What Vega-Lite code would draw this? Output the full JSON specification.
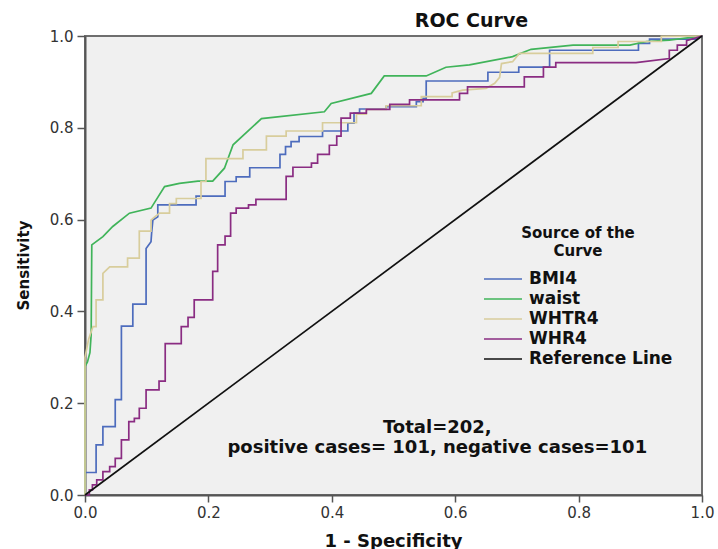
{
  "$schema": "https://vega.github.io/schema/vega-lite/v6.json",
  "width": 617,
  "height": 459,
  "autosize": {"type": "none"},
  "padding": {"left": 85, "top": 36, "right": 16, "bottom": 54},
  "background": "white",
  "title": {"text": "ROC Curve", "font": "DejaVu Sans", "fontSize": 19, "fontWeight": "bold", "color": "#111", "anchor": "middle", "dx": 78, "dy": 8, "offset": 6},
  "config": {
    "view": {"fill": "#f0f0f0", "stroke": "#6e6e6e", "strokeWidth": 2}
  },
  "datasets": {
    "roc": [
      {"s":"BMI4","x":0,"y":0},{"s":"BMI4","x":0,"y":0.049},{"s":"BMI4","x":0.018,"y":0.049},{"s":"BMI4","x":0.018,"y":0.109},{"s":"BMI4","x":0.029,"y":0.109},{"s":"BMI4","x":0.029,"y":0.149},{"s":"BMI4","x":0.049,"y":0.149},{"s":"BMI4","x":0.049,"y":0.208},{"s":"BMI4","x":0.059,"y":0.208},{"s":"BMI4","x":0.059,"y":0.368},{"s":"BMI4","x":0.0775,"y":0.368},{"s":"BMI4","x":0.0775,"y":0.416},{"s":"BMI4","x":0.099,"y":0.416},{"s":"BMI4","x":0.099,"y":0.537},{"s":"BMI4","x":0.107,"y":0.552},{"s":"BMI4","x":0.108,"y":0.571},{"s":"BMI4","x":0.110,"y":0.599},{"s":"BMI4","x":0.118,"y":0.606},{"s":"BMI4","x":0.118,"y":0.632},{"s":"BMI4","x":0.180,"y":0.632},{"s":"BMI4","x":0.180,"y":0.651},{"s":"BMI4","x":0.227,"y":0.651},{"s":"BMI4","x":0.227,"y":0.683},{"s":"BMI4","x":0.245,"y":0.683},{"s":"BMI4","x":0.245,"y":0.693},{"s":"BMI4","x":0.267,"y":0.693},{"s":"BMI4","x":0.267,"y":0.713},{"s":"BMI4","x":0.316,"y":0.713},{"s":"BMI4","x":0.316,"y":0.742},{"s":"BMI4","x":0.325,"y":0.742},{"s":"BMI4","x":0.325,"y":0.759},{"s":"BMI4","x":0.334,"y":0.759},{"s":"BMI4","x":0.334,"y":0.770},{"s":"BMI4","x":0.347,"y":0.770},{"s":"BMI4","x":0.347,"y":0.781},{"s":"BMI4","x":0.385,"y":0.781},{"s":"BMI4","x":0.385,"y":0.793},{"s":"BMI4","x":0.426,"y":0.793},{"s":"BMI4","x":0.426,"y":0.810},{"s":"BMI4","x":0.436,"y":0.810},{"s":"BMI4","x":0.436,"y":0.832},{"s":"BMI4","x":0.445,"y":0.832},{"s":"BMI4","x":0.445,"y":0.841},{"s":"BMI4","x":0.488,"y":0.841},{"s":"BMI4","x":0.488,"y":0.846},{"s":"BMI4","x":0.537,"y":0.846},{"s":"BMI4","x":0.537,"y":0.857},{"s":"BMI4","x":0.548,"y":0.857},{"s":"BMI4","x":0.548,"y":0.864},{"s":"BMI4","x":0.553,"y":0.864},{"s":"BMI4","x":0.553,"y":0.902},{"s":"BMI4","x":0.653,"y":0.902},{"s":"BMI4","x":0.653,"y":0.921},{"s":"BMI4","x":0.703,"y":0.921},{"s":"BMI4","x":0.703,"y":0.932},{"s":"BMI4","x":0.753,"y":0.932},{"s":"BMI4","x":0.753,"y":0.969},{"s":"BMI4","x":0.897,"y":0.969},{"s":"BMI4","x":0.897,"y":0.984},{"s":"BMI4","x":0.915,"y":0.984},{"s":"BMI4","x":0.915,"y":0.993},{"s":"BMI4","x":0.99,"y":0.993},{"s":"BMI4","x":1,"y":1},
      {"s":"waist","x":0,"y":0},{"s":"waist","x":0,"y":0.28},{"s":"waist","x":0.004,"y":0.29},{"s":"waist","x":0.008,"y":0.31},{"s":"waist","x":0.010,"y":0.35},{"s":"waist","x":0.011,"y":0.545},{"s":"waist","x":0.029,"y":0.563},{"s":"waist","x":0.045,"y":0.585},{"s":"waist","x":0.072,"y":0.614},{"s":"waist","x":0.107,"y":0.625},{"s":"waist","x":0.129,"y":0.672},{"s":"waist","x":0.153,"y":0.679},{"s":"waist","x":0.183,"y":0.684},{"s":"waist","x":0.207,"y":0.684},{"s":"waist","x":0.226,"y":0.712},{"s":"waist","x":0.240,"y":0.763},{"s":"waist","x":0.286,"y":0.820},{"s":"waist","x":0.388,"y":0.835},{"s":"waist","x":0.399,"y":0.853},{"s":"waist","x":0.464,"y":0.875},{"s":"waist","x":0.485,"y":0.913},{"s":"waist","x":0.553,"y":0.913},{"s":"waist","x":0.585,"y":0.932},{"s":"waist","x":0.623,"y":0.937},{"s":"waist","x":0.693,"y":0.955},{"s":"waist","x":0.723,"y":0.971},{"s":"waist","x":0.791,"y":0.980},{"s":"waist","x":0.883,"y":0.980},{"s":"waist","x":0.910,"y":0.988},{"s":"waist","x":0.947,"y":0.991},{"s":"waist","x":1,"y":1},
      {"s":"WHTR4","x":0,"y":0},{"s":"WHTR4","x":0,"y":0.30},{"s":"WHTR4","x":0.006,"y":0.34},{"s":"WHTR4","x":0.013,"y":0.367},{"s":"WHTR4","x":0.018,"y":0.367},{"s":"WHTR4","x":0.018,"y":0.425},{"s":"WHTR4","x":0.029,"y":0.425},{"s":"WHTR4","x":0.029,"y":0.483},{"s":"WHTR4","x":0.040,"y":0.497},{"s":"WHTR4","x":0.069,"y":0.497},{"s":"WHTR4","x":0.069,"y":0.516},{"s":"WHTR4","x":0.088,"y":0.516},{"s":"WHTR4","x":0.088,"y":0.575},{"s":"WHTR4","x":0.107,"y":0.575},{"s":"WHTR4","x":0.107,"y":0.599},{"s":"WHTR4","x":0.113,"y":0.606},{"s":"WHTR4","x":0.121,"y":0.614},{"s":"WHTR4","x":0.137,"y":0.614},{"s":"WHTR4","x":0.137,"y":0.635},{"s":"WHTR4","x":0.148,"y":0.635},{"s":"WHTR4","x":0.148,"y":0.646},{"s":"WHTR4","x":0.188,"y":0.646},{"s":"WHTR4","x":0.188,"y":0.683},{"s":"WHTR4","x":0.196,"y":0.683},{"s":"WHTR4","x":0.196,"y":0.733},{"s":"WHTR4","x":0.256,"y":0.733},{"s":"WHTR4","x":0.256,"y":0.752},{"s":"WHTR4","x":0.294,"y":0.752},{"s":"WHTR4","x":0.294,"y":0.782},{"s":"WHTR4","x":0.326,"y":0.782},{"s":"WHTR4","x":0.326,"y":0.793},{"s":"WHTR4","x":0.385,"y":0.793},{"s":"WHTR4","x":0.385,"y":0.811},{"s":"WHTR4","x":0.440,"y":0.811},{"s":"WHTR4","x":0.440,"y":0.830},{"s":"WHTR4","x":0.456,"y":0.830},{"s":"WHTR4","x":0.456,"y":0.840},{"s":"WHTR4","x":0.488,"y":0.840},{"s":"WHTR4","x":0.488,"y":0.848},{"s":"WHTR4","x":0.545,"y":0.848},{"s":"WHTR4","x":0.545,"y":0.868},{"s":"WHTR4","x":0.595,"y":0.868},{"s":"WHTR4","x":0.595,"y":0.876},{"s":"WHTR4","x":0.612,"y":0.882},{"s":"WHTR4","x":0.650,"y":0.886},{"s":"WHTR4","x":0.664,"y":0.897},{"s":"WHTR4","x":0.672,"y":0.910},{"s":"WHTR4","x":0.675,"y":0.940},{"s":"WHTR4","x":0.693,"y":0.944},{"s":"WHTR4","x":0.704,"y":0.962},{"s":"WHTR4","x":0.823,"y":0.962},{"s":"WHTR4","x":0.823,"y":0.975},{"s":"WHTR4","x":0.864,"y":0.975},{"s":"WHTR4","x":0.864,"y":0.988},{"s":"WHTR4","x":0.934,"y":0.988},{"s":"WHTR4","x":0.934,"y":0.999},{"s":"WHTR4","x":1,"y":1},
      {"s":"WHR4","x":0,"y":0},{"s":"WHR4","x":0.007,"y":0},{"s":"WHR4","x":0.007,"y":0.011},{"s":"WHR4","x":0.012,"y":0.011},{"s":"WHR4","x":0.012,"y":0.022},{"s":"WHR4","x":0.019,"y":0.022},{"s":"WHR4","x":0.019,"y":0.033},{"s":"WHR4","x":0.029,"y":0.033},{"s":"WHR4","x":0.029,"y":0.051},{"s":"WHR4","x":0.040,"y":0.051},{"s":"WHR4","x":0.040,"y":0.062},{"s":"WHR4","x":0.049,"y":0.062},{"s":"WHR4","x":0.049,"y":0.080},{"s":"WHR4","x":0.059,"y":0.080},{"s":"WHR4","x":0.059,"y":0.120},{"s":"WHR4","x":0.071,"y":0.120},{"s":"WHR4","x":0.071,"y":0.160},{"s":"WHR4","x":0.080,"y":0.160},{"s":"WHR4","x":0.080,"y":0.167},{"s":"WHR4","x":0.088,"y":0.167},{"s":"WHR4","x":0.088,"y":0.189},{"s":"WHR4","x":0.099,"y":0.189},{"s":"WHR4","x":0.099,"y":0.229},{"s":"WHR4","x":0.120,"y":0.229},{"s":"WHR4","x":0.120,"y":0.248},{"s":"WHR4","x":0.130,"y":0.248},{"s":"WHR4","x":0.130,"y":0.330},{"s":"WHR4","x":0.156,"y":0.330},{"s":"WHR4","x":0.156,"y":0.367},{"s":"WHR4","x":0.167,"y":0.367},{"s":"WHR4","x":0.167,"y":0.387},{"s":"WHR4","x":0.177,"y":0.387},{"s":"WHR4","x":0.177,"y":0.425},{"s":"WHR4","x":0.207,"y":0.425},{"s":"WHR4","x":0.207,"y":0.487},{"s":"WHR4","x":0.215,"y":0.487},{"s":"WHR4","x":0.215,"y":0.545},{"s":"WHR4","x":0.227,"y":0.545},{"s":"WHR4","x":0.227,"y":0.564},{"s":"WHR4","x":0.236,"y":0.564},{"s":"WHR4","x":0.236,"y":0.614},{"s":"WHR4","x":0.245,"y":0.614},{"s":"WHR4","x":0.245,"y":0.625},{"s":"WHR4","x":0.265,"y":0.625},{"s":"WHR4","x":0.265,"y":0.632},{"s":"WHR4","x":0.277,"y":0.632},{"s":"WHR4","x":0.277,"y":0.644},{"s":"WHR4","x":0.326,"y":0.644},{"s":"WHR4","x":0.326,"y":0.694},{"s":"WHR4","x":0.337,"y":0.694},{"s":"WHR4","x":0.337,"y":0.714},{"s":"WHR4","x":0.367,"y":0.714},{"s":"WHR4","x":0.367,"y":0.723},{"s":"WHR4","x":0.377,"y":0.723},{"s":"WHR4","x":0.377,"y":0.742},{"s":"WHR4","x":0.396,"y":0.742},{"s":"WHR4","x":0.396,"y":0.762},{"s":"WHR4","x":0.408,"y":0.762},{"s":"WHR4","x":0.408,"y":0.782},{"s":"WHR4","x":0.415,"y":0.782},{"s":"WHR4","x":0.415,"y":0.821},{"s":"WHR4","x":0.430,"y":0.821},{"s":"WHR4","x":0.430,"y":0.832},{"s":"WHR4","x":0.456,"y":0.832},{"s":"WHR4","x":0.456,"y":0.840},{"s":"WHR4","x":0.494,"y":0.840},{"s":"WHR4","x":0.494,"y":0.851},{"s":"WHR4","x":0.526,"y":0.851},{"s":"WHR4","x":0.526,"y":0.861},{"s":"WHR4","x":0.607,"y":0.861},{"s":"WHR4","x":0.607,"y":0.875},{"s":"WHR4","x":0.620,"y":0.875},{"s":"WHR4","x":0.620,"y":0.889},{"s":"WHR4","x":0.712,"y":0.889},{"s":"WHR4","x":0.712,"y":0.911},{"s":"WHR4","x":0.743,"y":0.911},{"s":"WHR4","x":0.743,"y":0.932},{"s":"WHR4","x":0.763,"y":0.932},{"s":"WHR4","x":0.763,"y":0.942},{"s":"WHR4","x":0.893,"y":0.942},{"s":"WHR4","x":0.947,"y":0.951},{"s":"WHR4","x":0.947,"y":0.969},{"s":"WHR4","x":0.960,"y":0.969},{"s":"WHR4","x":0.960,"y":0.980},{"s":"WHR4","x":0.975,"y":0.980},{"s":"WHR4","x":0.975,"y":0.990},{"s":"WHR4","x":1,"y":1},
      {"s":"Reference Line","x":0,"y":0},{"s":"Reference Line","x":1,"y":1}
    ]
  },
  "layer": [
    {
      "data": {"name": "roc"},
      "mark": {"type": "line", "strokeWidth": 1.7, "interpolate": "linear"},
      "encoding": {
        "x": {"field": "x", "type": "quantitative", "scale": {"domain": [0, 1], "nice": false, "zero": false},
          "axis": {"title": "1 - Specificity", "values": [0, 0.2, 0.4, 0.6, 0.8, 1.0], "format": ".1f", "grid": false, "labelFlush": false,
            "domainColor": "#555", "domainWidth": 2, "tickColor": "#555", "tickWidth": 1.5, "tickSize": 7,
            "labelFont": "DejaVu Sans", "labelFontSize": 15, "labelColor": "#333", "labelPadding": 3,
            "titleFont": "DejaVu Sans", "titleFontSize": 18, "titleFontWeight": "bold", "titleColor": "#111",
            "titleX": 308, "titleY": 51, "titleBaseline": "alphabetic", "titleAlign": "center"}},
        "y": {"field": "y", "type": "quantitative", "scale": {"domain": [0, 1], "nice": false, "zero": false},
          "axis": {"title": "Sensitivity", "values": [0, 0.2, 0.4, 0.6, 0.8, 1.0], "format": ".1f", "grid": false, "labelFlush": false,
            "domainColor": "#555", "domainWidth": 2, "tickColor": "#555", "tickWidth": 1.5, "tickSize": 8,
            "labelFont": "DejaVu Sans", "labelFontSize": 15, "labelColor": "#333", "labelPadding": 4,
            "titleFont": "DejaVu Sans", "titleFontSize": 15, "titleFontWeight": "bold", "titleColor": "#111",
            "titleX": -62, "titleY": 229, "titleAngle": 270, "titleBaseline": "middle", "titleAlign": "center"}},
        "color": {"field": "s", "type": "nominal",
          "scale": {"domain": ["BMI4", "waist", "WHTR4", "WHR4", "Reference Line"], "range": ["#4d6cbd", "#40b45a", "#d8cd9c", "#8a2c82", "#111111"]},
          "legend": {"orient": "none", "legendX": 398, "legendY": 190, "title": ["Source of the", "Curve"],
            "titleFont": "DejaVu Sans", "titleFontSize": 15, "titleFontWeight": "bold", "titleColor": "#111",
            "titleAnchor": "middle", "titleAlign": "center", "titleLineHeight": 18, "titlePadding": 9,
            "labelFont": "DejaVu Sans", "labelFontSize": 17, "labelFontWeight": "bold", "labelColor": "#111", "labelOffset": 24,
            "symbolType": "M-1,0H2.8", "symbolSize": 400, "symbolStrokeWidth": 1.6, "rowPadding": 1}},
        "order": {"value": null}
      }
    },
    {
      "data": {"values": [{}]},
      "mark": {"type": "text", "font": "DejaVu Sans", "fontSize": 18, "fontWeight": "bold", "color": "#111", "align": "center", "baseline": "alphabetic", "lineHeight": 20},
      "encoding": {
        "x": {"datum": 0.571, "type": "quantitative"},
        "y": {"datum": 0.135, "type": "quantitative"},
        "text": {"value": ["Total=202,", "positive cases= 101, negative cases=101"]}
      }
    }
  ]
}
